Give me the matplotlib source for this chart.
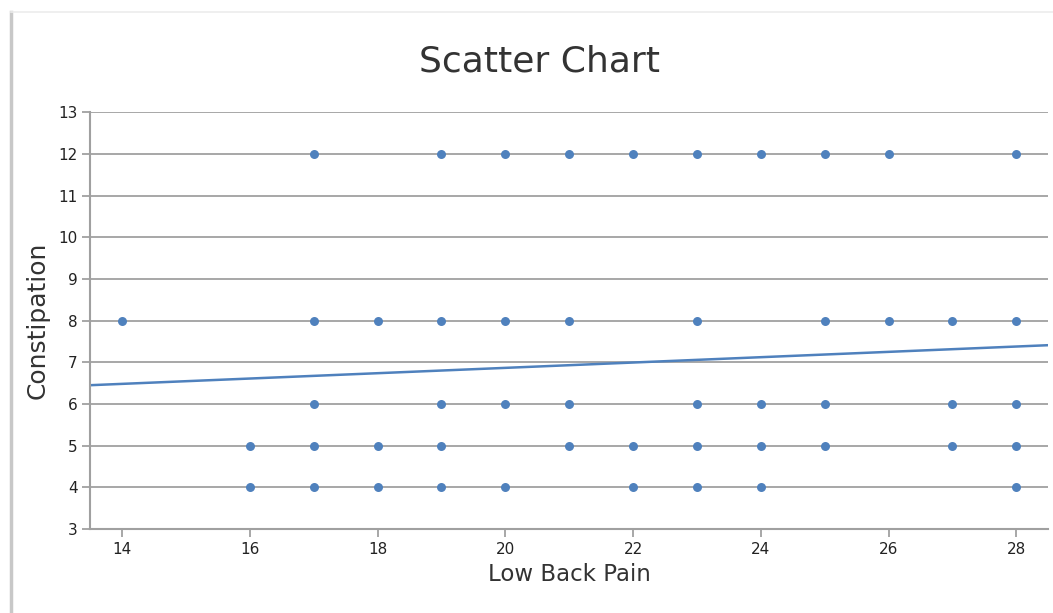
import matplotlib.pyplot as plt
from matplotlib.lines import Line2D

# data
x_vals = [17, 19, 20, 21, 22, 23, 24, 25, 26, 28,
          14, 17, 18, 19, 20, 21, 23, 25, 26, 27, 28,
          17, 19, 20, 21, 23, 24, 25, 27, 28,
          16, 17, 18, 19, 21, 22, 23, 24, 25, 27, 28,
          16, 17, 18, 19, 20, 22, 23, 24, 28]
y_vals = [12] * 10 + [8] * 11 + [6] * 9 + [5] * 11 + [4] * 9

trend_x = [13.5, 28.5]
trend_y = [6.45, 7.41]

x_ticks = [14, 16, 18, 20, 22, 24, 26, 28]
y_ticks = list(range(3, 14))

blue = "#4f81bd"
grid_col = "#a0a0a0"

fig = plt.figure(figsize=(10.53, 6.13), dpi=100)
ax = fig.add_axes([0.0855, 0.137, 0.91, 0.68])

ax.set_xlim(13.5, 28.5)
ax.set_ylim(3, 13)
ax.set_yticks(y_ticks)
ax.set_xticks(x_ticks)
ax.grid(axis="y", color=grid_col, linewidth=1.3)
ax.set_axisbelow(True)

ax.plot(trend_x, trend_y, color=blue, linewidth=1.8, zorder=2)
ax.scatter(x_vals, y_vals, s=42, color=blue, zorder=3, linewidths=0)

for s in ["top", "right"]:
    ax.spines[s].set_visible(False)
for s in ["left", "bottom"]:
    ax.spines[s].set_color(grid_col)
    ax.spines[s].set_linewidth(1.5)

ax.tick_params(axis="both", colors=grid_col, labelcolor="#222222", labelsize=11, length=6, width=1.3)
ax.tick_params(axis="y", pad=3)

ax.set_xlabel("Low Back Pain", fontsize=16.5, color="#333333", labelpad=4)
ax.set_ylabel("Constipation", fontsize=18, color="#333333", labelpad=6)
fig.text(0.512, 0.9, "Scatter Chart", fontsize=26, color="#333333", ha="center", va="center")

# panel border of the original widget
fig.add_artist(Line2D([0.0105, 0.0105], [0.0, 0.98], color="#c8c8c8", linewidth=2.5, transform=fig.transFigure))
fig.add_artist(Line2D([0.0105, 1.0], [0.98, 0.98], color="#ececec", linewidth=1.2, transform=fig.transFigure))

fig.savefig("out.png", dpi=100)
